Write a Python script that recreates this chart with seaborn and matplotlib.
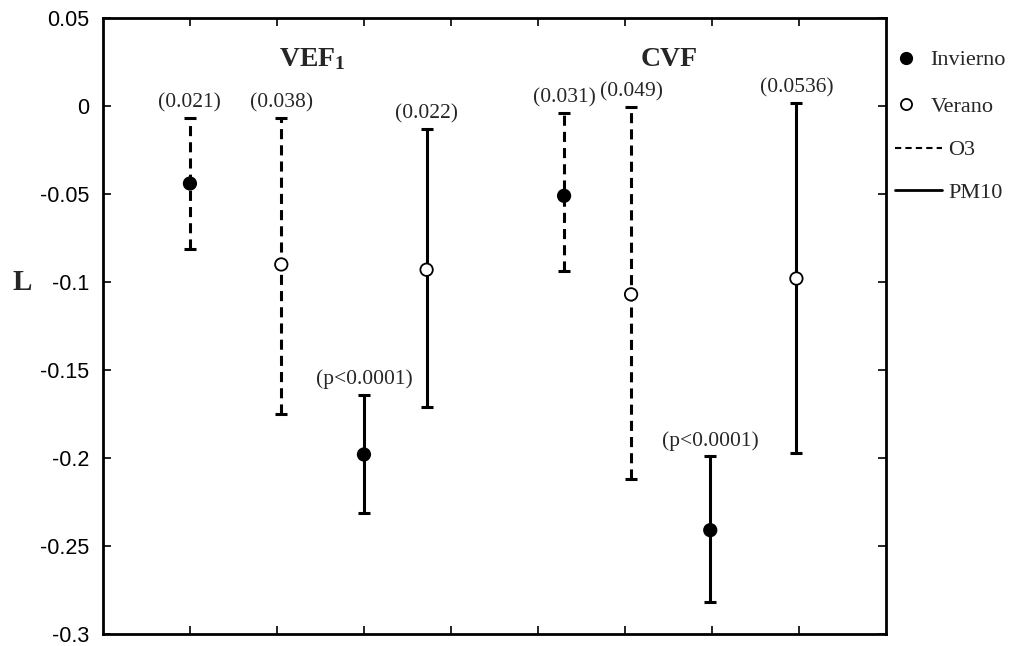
import matplotlib
matplotlib.use("Agg")
import matplotlib.pyplot as plt
from matplotlib.lines import Line2D
import seaborn as sns
import pandas as pd

# ---- data ----
xpos = [1.0, 2.05, 3.0, 3.72, 5.3, 6.07, 6.98, 7.97]
center = [-0.044, -0.090, -0.198, -0.093, -0.051, -0.107, -0.241, -0.098]
upper = [-0.007, -0.007, -0.164, -0.013, -0.004, -0.0005, -0.199, 0.002]
lower = [-0.081, -0.175, -0.231, -0.171, -0.094, -0.212, -0.282, -0.197]
season = ["Invierno", "Verano", "Invierno", "Verano",
          "Invierno", "Verano", "Invierno", "Verano"]
pollutant = ["O3", "O3", "PM10", "PM10", "O3", "O3", "PM10", "PM10"]
pvals = ["(0.021)", "(0.038)", "(p<0.0001)", "(0.022)",
         "(0.031)", "(0.049)", "(p<0.0001)", "(0.0536)"]
groups = ["VEF$\\mathbf{_1}$", "CVF"]
group_x = [2.41, 6.51]
yticks = [0.05, 0, -0.05, -0.1, -0.15, -0.2, -0.25, -0.3]
ytick_labels = ["0.05", "0", "-0.05", "-0.1", "-0.15", "-0.2", "-0.25", "-0.3"]

df = pd.DataFrame({"x": xpos, "y": center, "up": upper, "lo": lower,
                   "season": season, "pollutant": pollutant, "p": pvals})

sns.set_style("ticks")
serif = ["Liberation Serif", "DejaVu Serif"]
sans = ["Liberation Sans", "DejaVu Sans"]
plt.rcParams["font.family"] = sans
plt.rcParams["mathtext.fontset"] = "custom"
plt.rcParams["mathtext.rm"] = "Liberation Serif"
plt.rcParams["mathtext.bf"] = "Liberation Serif:bold"
plt.rcParams["mathtext.it"] = "Liberation Serif:italic"

fig = plt.figure(figsize=(10.19, 6.46), dpi=100)
ax = fig.add_axes([0.101, 0.0186, 0.7685, 0.9534])

ls_map = {"O3": (0, (3.3, 2.0)), "PM10": "-"}
for _, r in df.iterrows():
    eb = ax.errorbar(r["x"], r["y"], yerr=[[r["y"] - r["lo"]], [r["up"] - r["y"]]],
                     fmt="none", ecolor="black", elinewidth=2.2, capsize=4.5,
                     capthick=2.2, zorder=2)
    for lc in eb[2]:
        lc.set_linestyle(ls_map[r["pollutant"]])
    ax.annotate(r["p"], (r["x"], r["up"]), xytext=(0, 4), textcoords="offset points",
                ha="center", va="bottom", fontsize=15.5, family=serif)

sns.scatterplot(data=df, x="x", y="y", hue="season", style="season",
                markers={"Invierno": "o", "Verano": "o"},
                palette={"Invierno": "black", "Verano": "white"},
                edgecolor="black", linewidth=1.3, s=80, ax=ax, legend=False, zorder=3)

for g, gx in zip(groups, group_x):
    ax.text(gx, 0.0227, g, ha="center", va="baseline", fontsize=20,
            fontweight="bold", family=serif)

ax.set_xlim(0, 9)
ax.set_ylim(-0.3, 0.05)
ax.set_xticks(range(1, 9))
ax.set_xticklabels([])
ax.set_yticks(yticks)
ax.set_yticklabels(ytick_labels, fontsize=15.5)
ax.tick_params(direction="in", length=6, width=1.2, top=True, right=True,
               pad=10, colors="black")
ax.tick_params(axis="y", labelsize=15.5)
for s in ax.spines.values():
    s.set_linewidth(2.0)
    s.set_color("black")
ax.set_xlabel("")
ax.set_ylabel("L", rotation=0, fontsize=21, fontweight="bold", family=serif,
              ha="center", va="center")
ax.yaxis.set_label_coords(-0.1035, 0.57)

mk_handles = [
    Line2D([], [], marker="o", color="black", linestyle="none", markersize=8.5,
           markerfacecolor="black"),
    Line2D([], [], marker="o", color="black", linestyle="none", markersize=8,
           markerfacecolor="white", markeredgewidth=1.3),
]
ln_handles = [
    Line2D([], [], color="black", linestyle=(0, (3, 2)), linewidth=1.5),
    Line2D([], [], color="black", linestyle="-", linewidth=2.0),
]
leg1 = fig.legend(mk_handles, ["Invierno", "Verano"], loc="center left",
                  bbox_to_anchor=(886 / 1019, 1 - 83.5 / 646), frameon=False,
                  handlelength=1.0, handletextpad=0.6, labelspacing=1.18,
                  borderaxespad=0, borderpad=0.4,
                  prop={"family": serif, "size": 16})
leg2 = fig.legend(ln_handles, ["O3", "PM10"], loc="center left",
                  bbox_to_anchor=(886 / 1019, 1 - 171.5 / 646), frameon=False,
                  handlelength=2.1, handletextpad=0.3, labelspacing=1.0,
                  borderaxespad=0, borderpad=0.4,
                  prop={"family": serif, "size": 16})

fig.savefig("out.png", dpi=100)
